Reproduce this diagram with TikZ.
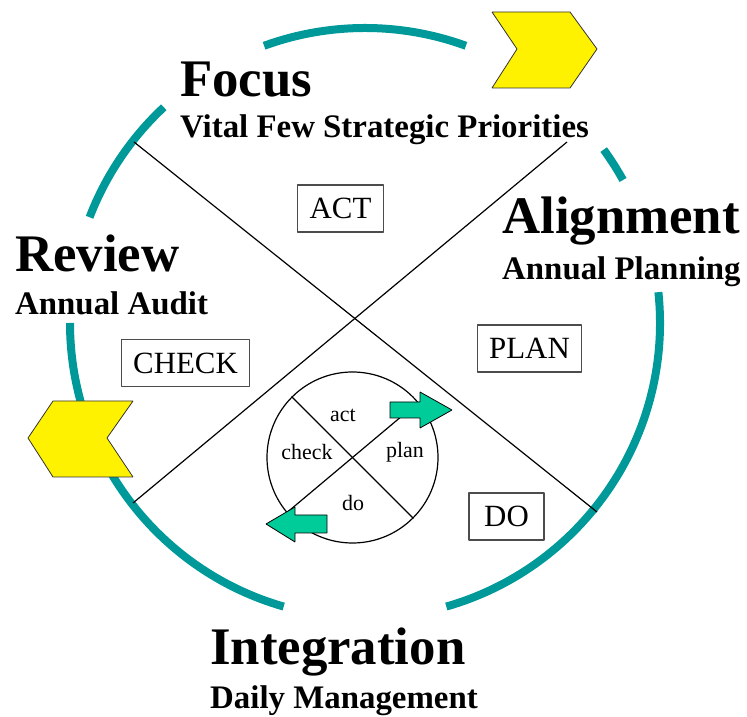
\documentclass[tikz,border=0pt]{standalone}
\usepackage{fontspec}
\setmainfont{Liberation Serif}
\definecolor{ringteal}{RGB}{0,153,153}
\definecolor{arrowgreen}{RGB}{0,204,153}
\tikzset{
  bigtitle/.style={anchor=base west,inner sep=0pt,font=\fontsize{53}{60}\selectfont\bfseries},
  subtitle/.style={anchor=base west,inner sep=0pt,font=\fontsize{33}{38}\selectfont\bfseries},
  phasebox/.style={draw=black!70,line width=1.2bp,minimum height=47bp,minimum width=75bp,inner xsep=12bp,font=\fontsize{31}{36}\selectfont},
  smalllabel/.style={inner sep=0pt,font=\fontsize{22}{26}\selectfont},
  ring/.style={ringteal,line width=8bp},
  chevron/.style={fill=yellow,draw=black!80,line width=0.8bp},
  blockarrow/.style={fill=arrowgreen,draw=black,line width=0.8bp},
}
\begin{document}
\begin{tikzpicture}[>=latex,line join=bevel,]
\useasboundingbox (0bp,0bp) rectangle (747bp,717bp);
%% outer ring
\draw [ring] (365bp,394bp) ++(70:295bp) arc (70:110:295bp);
  \draw [ring] (365bp,394bp) ++(29:295bp) arc (29:36:295bp);
  \draw [ring] (365bp,394bp) ++(-74:295bp) arc (-74:6:295bp);
  \draw [ring] (365bp,394bp) ++(133:295bp) arc (133:159:295bp);
  \draw [ring] (365bp,394bp) ++(180:295bp) arc (180:254:295bp);
%
\coordinate (ring_nw) at (134bp,575bp);
  \coordinate (ring_se) at (597bp,205bp);
  \coordinate (ring_sw) at (133bp,214bp);
  \coordinate (ring_ne) at (567bp,575bp);
  \draw [black,line width=1.2bp] (ring_nw) -- (ring_se);
  \draw [black,line width=1.2bp] (ring_sw) -- (ring_ne);
%
\draw [chevron] (492bp,705bp) -- (570bp,705bp) -- (597bp,668bp) -- (570bp,629bp) -- (492bp,629bp) -- (517bp,668bp) -- cycle;
  \draw [chevron] (53bp,316bp) -- (133bp,316bp) -- (107bp,279bp) -- (133bp,240bp) -- (53bp,240bp) -- (28bp,279bp) -- cycle;
%% titles
\node (node_focus) at (180bp,620bp) [bigtitle] {Focus};
  \node (node_focus_sub) at (180bp,579bp) [subtitle] {Vital Few Strategic Priorities};
  \node (node_alignment) at (502bp,483bp) [bigtitle] {Alignment};
  \node (node_alignment_sub) at (502bp,437bp) [subtitle] {Annual Planning};
  \node (node_review) at (15bp,445bp) [bigtitle] {Review};
  \node (node_review_sub) at (15bp,402bp) [subtitle] {Annual Audit};
  \node (node_integration) at (210bp,52bp) [bigtitle] {Integration};
  \node (node_integration_sub) at (210bp,9bp) [subtitle] {Daily Management};
%% phases
\node (node_act) at (340.5bp,508.5bp) [phasebox] {ACT};
  \node (node_check) at (185.5bp,354bp) [phasebox] {CHECK};
  \node (node_plan) at (529.5bp,368.5bp) [phasebox] {PLAN};
  \node (node_do) at (506.5bp,200.5bp) [phasebox] {DO};
%% inner cycle
\node (inner_ring) at (352.5bp,259.5bp) [draw,circle,minimum size=171bp,line width=1.2bp] {};
  \draw [black,line width=1.2bp] (inner_ring.135) -- (inner_ring.-45);
  \draw [black,line width=1.2bp] (inner_ring.220) -- (inner_ring.40);
  \draw [blockarrow] (390bp,315bp) -- (420bp,315bp) -- (420bp,325bp) -- (452bp,307bp) -- (420bp,289bp) -- (420bp,299bp) -- (390bp,299bp) -- cycle;
  \draw [blockarrow] (327bp,202bp) -- (295bp,202bp) -- (295bp,210bp) -- (266bp,193bp) -- (295bp,175bp) -- (295bp,184bp) -- (327bp,184bp) -- cycle;
  \node (node_act_small) at (343bp,302bp) [smalllabel] {act};
  \node (node_check_small) at (307bp,265bp) [smalllabel] {check};
  \node (node_plan_small) at (405bp,265bp) [smalllabel] {plan};
  \node (node_do_small) at (353bp,214bp) [smalllabel] {do};
%
\end{tikzpicture}
\end{document}
